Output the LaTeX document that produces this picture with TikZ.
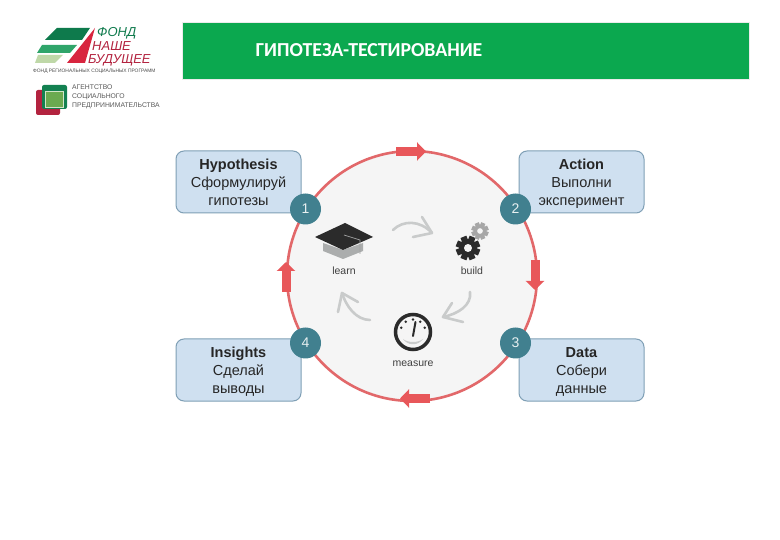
\documentclass[tikz,border=0pt]{standalone}
\usepackage{fontspec}
\setmainfont{Liberation Sans}
\newfontfamily\titlefont{Carlito}
\usetikzlibrary{arrows.meta,calc}
\definecolor{barg}{HTML}{0BA84F}
\definecolor{boxf}{HTML}{CFE0F0}
\definecolor{boxb}{HTML}{7F9FB5}
\definecolor{ringc}{HTML}{E2686A}
\definecolor{arrc}{HTML}{E8575A}
\definecolor{numc}{HTML}{41808F}
\definecolor{discf}{HTML}{F5F5F5}
\definecolor{gr}{HTML}{C9CBCB}
\definecolor{dk}{HTML}{2B2B2B}
\definecolor{lgd}{HTML}{0E7A4C}
\definecolor{lgm}{HTML}{2FA56A}
\definecolor{lgl}{HTML}{BFD8A8}
\definecolor{lgr}{HTML}{D8253F}
\definecolor{crim}{HTML}{B3233F}
\definecolor{lgin}{HTML}{6BAA50}
\tikzset{
 infobox/.style={draw=boxb,fill=boxf,line width=1pt,rounded corners=8pt,minimum width=125pt,minimum height=62pt,align=center,inner sep=0pt,font=\fontsize{14.5}{18}\selectfont,text=black!85},
 numdot/.style={circle,fill=numc,minimum size=31pt,inner sep=0pt,text=white!88!numc,font=\fontsize{14}{16}\selectfont},
 redarrow/.style={line width=9pt,draw=arrc,-{Triangle[length=9pt,width=18pt,fill=arrc]}},
 grayarrow/.style={draw=gr,line width=2.6pt,line cap=round,line join=round},
 iconlabel/.style={font=\fontsize{10.5}{12}\selectfont,text=black!75,inner sep=0pt},
 ring/.style={circle,draw=ringc,fill=discf,line width=2.6pt,minimum size=250pt,inner sep=0pt},
}
\newcommand{\lns}{\rule[-4pt]{0pt}{14pt}}
\newcommand{\flns}{\rule[-4pt]{0pt}{19pt}}
\newcommand{\cog}[5]{% x, y, radius, colour, hole colour
 \foreach \a in {0,45,90,135}{\fill[#4,rotate around={\a+22.5:(#1,#2)}] ($(#1,#2)+(-0.3*#3,-1.15*#3)$) rectangle ($(#1,#2)+(0.3*#3,1.15*#3)$);}
 \fill[#4] (#1,#2) circle[radius=0.85*#3];
 \fill[#5] (#1,#2) circle[radius=0.38*#3];
}
\begin{document}
\begin{tikzpicture}[x=1pt,y=-1pt]
\useasboundingbox (0,0) rectangle (780,540);
\fill[white] (0,0) rectangle (780,540);
% title bar
\node[draw=black!8,fill=barg,minimum width=567pt,minimum height=57pt,inner sep=0pt] (bar) at (465.5,50.5) {};
\node[text=white,font=\titlefont\bfseries\fontsize{19.8}{22}\selectfont,inner sep=0pt] (title) at (369,50.5) {ГИПОТЕЗА-ТЕСТИРОВАНИЕ};
% logo 1
\fill[lgd] (57,28) -- (90,28) -- (82,40) -- (45,40) -- cycle;
\fill[lgm] (42,45) -- (77,45) -- (70,53) -- (37,53) -- cycle;
\fill[lgl] (38,55) -- (63,55) -- (55,63) -- (35,63) -- cycle;
\fill[lgr] (95,28) -- (85,63) -- (67,63) -- cycle;
\node[anchor=west,inner sep=0pt,text=lgd,font=\fontsize{13}{13}\selectfont\itshape] (f1) at (97,33) {ФОНД};
\node[anchor=west,inner sep=0pt,text=crim,font=\fontsize{13}{13}\selectfont\itshape] (f2) at (92,46.5) {НАШЕ};
\node[anchor=west,inner sep=0pt,text=crim,font=\fontsize{13}{13}\selectfont\itshape] (f3) at (88,60.5) {БУДУЩЕЕ};
\node[anchor=west,inner sep=0pt,text=black!70,font=\fontsize{4.9}{5}\selectfont] (f4) at (33,71.5) {ФОНД РЕГИОНАЛЬНЫХ СОЦИАЛЬНЫХ ПРОГРАММ};
% logo 2
\fill[crim,rounded corners=2pt] (36,90) rectangle (60,115);
\fill[lgd!85!lgm,rounded corners=2pt] (42,85) rectangle (67,109);
\fill[lgin] (46,92) rectangle (63,107);
\draw[white!70!lgin,line width=.7pt] (45,91) rectangle (63,107);
\node[anchor=west,align=left,inner sep=0pt,text=black!65,font=\fontsize{6.8}{9}\selectfont] (a1) at (72,97) {АГЕНТСТВО\\СОЦИАЛЬНОГО\\ПРЕДПРИНИМАТЕЛЬСТВА};
% cycle
\node[ring] (disc) at (412,276) {};
\coordinate (ta) at (396,151.5); \coordinate (tb) at (426,151.5);
\coordinate (ra) at (535,260); \coordinate (rb) at (535,290);
\coordinate (ba) at (430,398.5); \coordinate (bb) at (400,398.5);
\coordinate (la) at (286,292); \coordinate (lb) at (286,262);
\draw[redarrow] (ta) -- (tb);
\draw[redarrow] (ra) -- (rb);
\draw[redarrow] (ba) -- (bb);
\draw[redarrow] (la) -- (lb);
% boxes
\node[infobox] (hyp) at (238.5,182) {\flns\textbf{Hypothesis}\\\lns Сформулируй\\\lns гипотезы};
\node[infobox] (act) at (581.5,182) {\flns\textbf{Action}\\\lns Выполни\\\lns эксперимент};
\node[infobox] (dat) at (581.5,370) {\flns\textbf{Data}\\\lns Собери\\\lns данные};
\node[infobox] (ins) at (238.5,370) {\flns\textbf{Insights}\\\lns Сделай\\\lns выводы};
\node[numdot] (n1) at (305.5,209) {1};
\node[numdot] (n2) at (515.5,209) {2};
\node[numdot] (n3) at (515.5,343) {3};
\node[numdot] (n4) at (305.5,343) {4};
% learn icon
\fill[gr!85!black] (323,243) -- (323,251) -- (343,259) -- (363,251) -- (363,243) -- (343,250) -- cycle;
\fill[dk] (315,237) -- (345,223) -- (373,237) -- (343,250) -- cycle;
\draw[gr!80!black,line width=.7pt] (344,235) -- (360,240) -- (360,254);
\node[iconlabel] (learn) at (344,271) {learn};
% build icon
\cog{468}{248}{10.5}{dk}{discf}
\cog{480}{231}{7.5}{gray!70}{discf}
\node[iconlabel] (build) at (472,271) {build};
% measure icon
\node[circle,draw=dk,line width=3.5pt,fill=discf,minimum size=35pt,inner sep=0pt] (gauge) at (413,332) {};
\foreach \a in {200,235,270,305,340}{\fill[dk] ($(gauge.center)+(\a:12.5)$) circle[radius=1.4];}
\draw[dk,line width=2pt,line cap=round] (gauge.center) ++(0,4) -- ++(2.5,-14);
\fill[gr] (403,339) .. controls (408,343) and (418,343) .. (423,339) .. controls (418,346) and (408,346) .. cycle;
\node[iconlabel] (measure) at (413,364) {measure};
% cycle arrows between icons
\coordinate (p1) at (393,230); \coordinate (q1) at (432,233);
\coordinate (p2) at (470,292); \coordinate (q2) at (443,317);
\coordinate (p3) at (370,320); \coordinate (q3) at (342,293);
\draw[grayarrow] (p1) .. controls (403,220) and (420,220) .. (q1);
\draw[grayarrow] (422,217) -- (q1) -- (413,237);
\draw[grayarrow] (p2) .. controls (472,305) and (458,314) .. (q2);
\draw[grayarrow] (452,303) -- (q2) -- (463,322);
\draw[grayarrow] (p3) .. controls (356,320) and (346,306) .. (q3);
\draw[grayarrow] (338,312) -- (q3) -- (358,302);
\end{tikzpicture}
\end{document}
